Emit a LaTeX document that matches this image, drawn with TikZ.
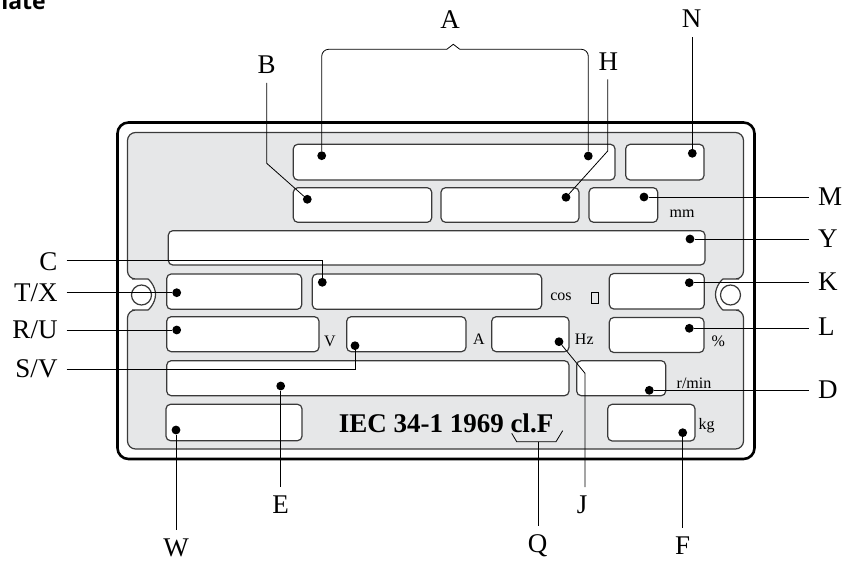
\documentclass[tikz,border=0pt]{standalone}
\usepackage{fontspec}
\setmainfont{Liberation Serif}
\newfontfamily\headfont{Open Sans}
\definecolor{plategray}{HTML}{E6E7E8}
\definecolor{rim}{HTML}{3A3A3A}

\begin{document}
\begin{tikzpicture}[x=1pt, y=-1pt,
  field/.style={draw=rim, line width=1.2pt, fill=white, rounded corners=4.5pt},
  dot/.style={circle, fill=black, inner sep=0pt, minimum size=8.8pt},
  lab/.style={inner sep=0pt, outer sep=9pt, font=\fontsize{27}{27}\selectfont},
  unit/.style={inner sep=0pt, anchor=base, font=\fontsize{16}{16}\selectfont},
  lead/.style={line width=0.8pt}]
  \useasboundingbox (0,0) rectangle (844,561);
  % Heading (cut off at the top)
  \node[inner sep=0pt, anchor=base east, font=\headfont\bfseries\fontsize{23}{23}\selectfont] (head) at (46,10) {late};
  % Plate
  \draw[line width=2.6pt, rounded corners=11pt] (117.5,122.5) rectangle (754.5,459);
  \draw[draw=rim, line width=1.2pt, fill=plategray, rounded corners=8pt]
    (127.5,132.5) -- (743.5,132.5) -- (743.5,279) -- (731,279)
    arc[start angle=270, end angle=90, radius=15.5] -- (743.5,310) -- (743.5,449)
    -- (127.5,449) -- (127.5,310) -- (140,310)
    arc[start angle=90, end angle=-90, radius=15.5] -- (127.5,279) -- cycle;
  \draw[draw=rim, line width=1.2pt] (141.5,295) circle[radius=10] (730.5,295) circle[radius=10];
  % Fields
  \foreach \xa/\ya/\xb/\yb in {293.3/144.3/615/180, 625.7/144.3/704/180,
      293.3/187.7/431.7/222.3, 441/187.7/579/222.3, 589/187.7/657.7/222.3,
      168.3/230.7/705/265,
      166.7/274/301.7/309.3, 312.3/274/541.7/309.3, 609.3/273.5/704.3/309,
      166.7/316.7/319/351.7, 346.7/316.7/466/351.7, 491.7/316.7/569/351.7, 609.3/317.5/704/352.5,
      166.7/360.7/569/395.7, 576.7/360.7/665.7/395.7,
      166/404.3/302/440.7, 607.7/404.3/695/441}
    \draw[field] (\xa,\ya) rectangle (\xb,\yb);
  % Units
  \node[unit] (umm) at (682,218) {mm};
  \node[unit] (ucos) at (561,300.5) {cos};
  \draw[line width=0.6pt] (591,292) rectangle (598,303);
  \node[unit] (uV) at (330,346.5) {V};
  \node[unit] (uA) at (479,345) {A};
  \node[unit] (uHz) at (584.3,344.5) {Hz};
  \node[unit] (upct) at (718.3,346.5) {\%};
  \node[unit] (urmin) at (694,388.3) {r/min};
  \node[unit] (ukg) at (706.7,430) {kg};
  \node[inner sep=0pt, anchor=base, font=\bfseries\fontsize{27}{27}\selectfont] (iec) at (446,432) {IEC 34-1 1969 cl.F};
  % Dots
  \foreach \n/\p in {A1/{321.7,155.7}, A2/{588.3,156}, N/{692.3,153.3}, B/{307.3,199.3},
      H/{566,197.3}, M/{644,197}, Y/{690,239}, TX/{176.7,292.7}, C/{322.3,282.3},
      K/{689.3,282.7}, RU/{176.7,330}, SV/{355,345.7}, J/{559,341.7}, L/{689.3,328.3},
      E/{280.7,386}, D/{649.3,390.3}, W/{176,430}, F/{682.7,432.7}}
    \node[dot] (d\n) at (\p) {};
  % Labels
  \node[lab] (labA) at (450,19.7) {A};
  \node[lab] (labN) at (691.7,19) {N};
  \node[lab] (labB) at (266.7,65) {B};
  \node[lab] (labH) at (608.3,61.5) {H};
  \node[lab, anchor=west] (labM) at (809,196.7) {M};
  \node[lab, anchor=west] (labY) at (809,239) {Y};
  \node[lab, anchor=west] (labK) at (809,282) {K};
  \node[lab, anchor=west] (labL) at (809,327) {L};
  \node[lab, anchor=west] (labD) at (809,390) {D};
  \node[lab, anchor=east] (labC) at (66.5,261.5) {C};
  \node[lab, anchor=east] (labTX) at (66.5,293) {T/X};
  \node[lab, anchor=east] (labRU) at (66.5,330) {R/U};
  \node[lab, anchor=east] (labSV) at (66.5,369) {S/V};
  \node[lab] (labE) at (280.7,505) {E};
  \node[lab] (labJ) at (582,505) {J};
  \node[lab] (labW) at (176,548) {W};
  \node[lab] (labQ) at (537.5,546) {Q};
  \node[lab] (labF) at (682.7,546) {F};
  % Leaders
  \coordinate (bA1) at (446.8,49.3);
  \coordinate (tipA) at (453.3,44.3);
  \coordinate (bA2) at (459.8,49.3);
  \draw[lead, rounded corners=7pt] (dA1) |- (bA1);
  \draw[lead] (bA1) -- (tipA) -- (bA2);
  \draw[lead, rounded corners=7pt] (bA2) -| (dA2);
  \draw[lead] (dN) -- (dN |- labN.south);
  \coordinate (kB) at (266.7,163.3);
  \draw[lead] (kB |- labB.south) -- (kB) -- (dB);
  \coordinate (kH) at (607.7,151);
  \draw[lead] (kH |- labH.south) -- (kH) -- (dH);
  \foreach \n in {M,Y,K,L,D}
    \draw[lead] (d\n) -- (d\n -| lab\n.west);
  \coordinate (kC) at (322.3,260.7);
  \draw[lead] (kC -| labC.east) -- (kC) -- (dC);
  \draw[lead] (dTX -| labTX.east) -- (dTX);
  \draw[lead] (dRU -| labRU.east) -- (dRU);
  \coordinate (kSV) at (355,369);
  \draw[lead] (kSV -| labSV.east) -- (kSV) -- (dSV);
  \foreach \n in {E,W,F}
    \draw[lead] (d\n) -- (d\n |- lab\n.north);
  \coordinate (kJ) at (585,373.3);
  \draw[lead] (dJ) -- (kJ) -- (kJ |- labJ.north);
  % Q bracket
  \coordinate (q1) at (511.7,433.3);
  \coordinate (q2) at (516.7,441.7);
  \coordinate (q3) at (556,441.7);
  \coordinate (q4) at (562.7,430.7);
  \coordinate (qm) at (538.3,441.7);
  \draw[lead] (q1) -- (q2) -- (q3) -- (q4);
  \draw[lead] (qm) -- (qm |- labQ.north);
\end{tikzpicture}
\end{document}
